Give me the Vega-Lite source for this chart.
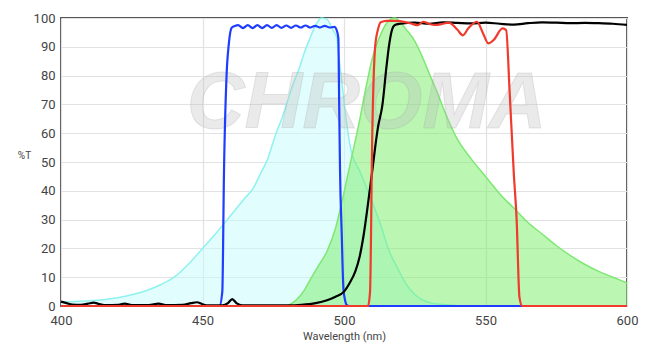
{
  "$schema": "https://vega.github.io/schema/vega-lite/v6.json",
  "autosize": {"type": "none"},
  "width": 566,
  "height": 288,
  "padding": {"left": 61, "top": 18, "right": 25, "bottom": 48},
  "background": "white",
  "config": {
    "view": {"stroke": "#555555", "strokeWidth": 2},
    "axis": {"labelFont": "Roboto", "titleFont": "Roboto", "gridColor": "#e2e2e2", "gridWidth": 1.2, "ticks": false, "domain": false, "labelColor": "#444444", "titleColor": "#444444", "labelFontSize": 13, "titleFontWeight": "normal", "labelFlush": false}
  },
  "datasets": {
    "excitation": [
      {"wl": 400, "t": 1.5}, {"wl": 405, "t": 1.6}, {"wl": 410, "t": 1.8}, {"wl": 415, "t": 2.2}, {"wl": 420, "t": 2.9}, {"wl": 425, "t": 3.9}, {"wl": 430, "t": 5.3}, {"wl": 435, "t": 7.3}, {"wl": 440, "t": 10}, {"wl": 445, "t": 14.5}, {"wl": 450, "t": 20}, {"wl": 455, "t": 25.5}, {"wl": 460, "t": 31.5}, {"wl": 465, "t": 37.5}, {"wl": 468, "t": 41}, {"wl": 470, "t": 45}, {"wl": 473, "t": 51}, {"wl": 476, "t": 60}, {"wl": 478, "t": 65}, {"wl": 480, "t": 71}, {"wl": 482, "t": 77}, {"wl": 484, "t": 82}, {"wl": 486, "t": 88}, {"wl": 488, "t": 93}, {"wl": 490, "t": 97.5}, {"wl": 492, "t": 100}, {"wl": 494, "t": 99.5}, {"wl": 496, "t": 96}, {"wl": 497.5, "t": 93}, {"wl": 498, "t": 88}, {"wl": 499, "t": 80}, {"wl": 500, "t": 71}, {"wl": 501, "t": 63}, {"wl": 502.5, "t": 54}, {"wl": 505.5, "t": 47}, {"wl": 508, "t": 41}, {"wl": 510, "t": 36}, {"wl": 513, "t": 28}, {"wl": 516, "t": 19}, {"wl": 519, "t": 13}, {"wl": 522, "t": 7.5}, {"wl": 525, "t": 4}, {"wl": 528, "t": 2}, {"wl": 531, "t": 1}, {"wl": 535, "t": 0.5}, {"wl": 540, "t": 0.2}
    ],
    "emission": [
      {"wl": 480, "t": 0}, {"wl": 483, "t": 2}, {"wl": 486, "t": 5.5}, {"wl": 488, "t": 9}, {"wl": 491, "t": 14}, {"wl": 494, "t": 19}, {"wl": 497, "t": 27}, {"wl": 499, "t": 35}, {"wl": 501, "t": 44}, {"wl": 503, "t": 53}, {"wl": 505, "t": 62}, {"wl": 508, "t": 77}, {"wl": 510, "t": 86}, {"wl": 512, "t": 92}, {"wl": 514, "t": 96.5}, {"wl": 516, "t": 99.3}, {"wl": 518, "t": 100}, {"wl": 520, "t": 98.5}, {"wl": 522, "t": 96}, {"wl": 525, "t": 92}, {"wl": 527, "t": 88}, {"wl": 530, "t": 81}, {"wl": 533, "t": 74}, {"wl": 536, "t": 66.5}, {"wl": 540, "t": 58}, {"wl": 545, "t": 51}, {"wl": 550, "t": 45}, {"wl": 555, "t": 39}, {"wl": 560, "t": 34}, {"wl": 565, "t": 29}, {"wl": 570, "t": 25}, {"wl": 575, "t": 21}, {"wl": 580, "t": 17.5}, {"wl": 585, "t": 14.5}, {"wl": 590, "t": 12}, {"wl": 595, "t": 10}, {"wl": 600, "t": 8}
    ],
    "exfilter": [
      {"wl": 400, "t": 0}, {"wl": 456, "t": 0}, {"wl": 457, "t": 5}, {"wl": 457.6, "t": 47}, {"wl": 458.5, "t": 80}, {"wl": 459.3, "t": 91}, {"wl": 460.3, "t": 96.6}, {"wl": 461.4, "t": 97.2}, {"wl": 462.6, "t": 97.5}, {"wl": 464.3, "t": 96.5}, {"wl": 466.0, "t": 97.5}, {"wl": 467.7, "t": 96.5}, {"wl": 469.4, "t": 97.5}, {"wl": 471.1, "t": 96.5}, {"wl": 472.8, "t": 97.5}, {"wl": 474.5, "t": 96.6}, {"wl": 476.2, "t": 97.5}, {"wl": 477.9, "t": 96.6}, {"wl": 479.6, "t": 97.4}, {"wl": 481.3, "t": 96.6}, {"wl": 483.0, "t": 97.4}, {"wl": 484.7, "t": 96.7}, {"wl": 486.4, "t": 97.4}, {"wl": 488.1, "t": 96.7}, {"wl": 489.8, "t": 97.3}, {"wl": 491.5, "t": 96.7}, {"wl": 493.2, "t": 97.3}, {"wl": 494.9, "t": 96.7}, {"wl": 496.6, "t": 96.9}, {"wl": 497.5, "t": 95.5}, {"wl": 498, "t": 93}, {"wl": 498.3, "t": 70}, {"wl": 498.6, "t": 47}, {"wl": 499.2, "t": 25}, {"wl": 499.8, "t": 6}, {"wl": 500.5, "t": 1.5}, {"wl": 501, "t": 0.3}, {"wl": 502, "t": 0}, {"wl": 600, "t": 0}
    ],
    "dichroic": [
      {"wl": 400, "t": 1.5}, {"wl": 402, "t": 1}, {"wl": 404, "t": 0.5}, {"wl": 407, "t": 0.4}, {"wl": 409.5, "t": 0.8}, {"wl": 411.5, "t": 1.2}, {"wl": 413.5, "t": 0.7}, {"wl": 416, "t": 0.3}, {"wl": 420, "t": 0.4}, {"wl": 422.5, "t": 0.8}, {"wl": 425, "t": 0.3}, {"wl": 431, "t": 0.3}, {"wl": 434.5, "t": 0.8}, {"wl": 437, "t": 0.3}, {"wl": 443, "t": 0.4}, {"wl": 446, "t": 1}, {"wl": 448, "t": 1.3}, {"wl": 450, "t": 0.6}, {"wl": 452, "t": 0.2}, {"wl": 457, "t": 0.2}, {"wl": 459, "t": 1}, {"wl": 460.5, "t": 2.4}, {"wl": 462, "t": 1}, {"wl": 464, "t": 0.2}, {"wl": 480, "t": 0.2}, {"wl": 485, "t": 0.4}, {"wl": 490, "t": 1}, {"wl": 494, "t": 2}, {"wl": 497, "t": 3.2}, {"wl": 500, "t": 5}, {"wl": 502, "t": 8}, {"wl": 504, "t": 12}, {"wl": 505.5, "t": 17}, {"wl": 507, "t": 25}, {"wl": 508.5, "t": 35.6}, {"wl": 510, "t": 47}, {"wl": 511, "t": 55}, {"wl": 512, "t": 62}, {"wl": 513.6, "t": 70}, {"wl": 515, "t": 83}, {"wl": 516, "t": 91}, {"wl": 517, "t": 96}, {"wl": 518, "t": 97.6}, {"wl": 520, "t": 98}, {"wl": 525, "t": 98.4}, {"wl": 530, "t": 98}, {"wl": 535, "t": 98.5}, {"wl": 540, "t": 98.3}, {"wl": 545, "t": 98.1}, {"wl": 550, "t": 98.4}, {"wl": 555, "t": 98}, {"wl": 560, "t": 97.7}, {"wl": 565, "t": 98.2}, {"wl": 570, "t": 98.5}, {"wl": 575, "t": 98.4}, {"wl": 580, "t": 98.2}, {"wl": 585, "t": 98.3}, {"wl": 590, "t": 98.2}, {"wl": 595, "t": 98}, {"wl": 600, "t": 97.6}
    ],
    "emfilter": [
      {"wl": 400, "t": 0}, {"wl": 508.5, "t": 0}, {"wl": 509.2, "t": 5}, {"wl": 510, "t": 60}, {"wl": 511, "t": 90}, {"wl": 512, "t": 96}, {"wl": 513, "t": 98.5}, {"wl": 515, "t": 99}, {"wl": 518, "t": 99}, {"wl": 522, "t": 98.5}, {"wl": 524, "t": 98}, {"wl": 526, "t": 97.5}, {"wl": 528, "t": 98.7}, {"wl": 530, "t": 98}, {"wl": 532, "t": 97.6}, {"wl": 535, "t": 98}, {"wl": 537, "t": 98.4}, {"wl": 540, "t": 96}, {"wl": 542, "t": 94}, {"wl": 544, "t": 96.5}, {"wl": 547, "t": 98.7}, {"wl": 549, "t": 95}, {"wl": 551, "t": 91.2}, {"wl": 553, "t": 92.5}, {"wl": 556, "t": 96.4}, {"wl": 557.3, "t": 95.8}, {"wl": 558.5, "t": 75}, {"wl": 560, "t": 46}, {"wl": 561, "t": 30}, {"wl": 562, "t": 3}, {"wl": 563, "t": 0}, {"wl": 600, "t": 0}
    ],
    "watermark": [{"wl": 508, "t": 70, "label": "CHROMA"}]
  },
  "encoding": {
    "x": {"field": "wl", "type": "quantitative", "scale": {"domain": [400, 600], "nice": false, "zero": false},
      "axis": {"values": [400, 450, 500, 550, 600], "grid": true, "labelPadding": 8, "title": "Wavelength (nm)", "titleFontSize": 11, "titlePadding": 3}},
    "y": {"field": "t", "type": "quantitative", "scale": {"domain": [0, 100], "nice": false},
      "axis": {"values": [0, 10, 20, 30, 40, 50, 60, 70, 80, 90, 100], "grid": true, "labelPadding": 6, "title": "%T", "titleAngle": 0, "titleX": -37, "titleY": 137, "titleAlign": "center", "titleBaseline": "middle", "titleFontSize": 10}}
  },
  "layer": [
    {"data": {"name": "excitation"}, "mark": {"type": "area", "interpolate": "monotone", "fill": "#c6fbfb", "fillOpacity": 0.5, "line": {"color": "#8ef2ee", "strokeWidth": 1.5}}},
    {"data": {"name": "emission"}, "mark": {"type": "area", "interpolate": "monotone", "fill": "#78ee68", "fillOpacity": 0.5, "line": {"color": "#7ee873", "strokeWidth": 1.5}}},
    {"data": {"name": "watermark"}, "mark": {"type": "text", "font": "Liberation Sans", "fontSize": 80, "fontWeight": "bold", "fontStyle": "italic", "fill": "#b8b8b8", "fillOpacity": 0.3, "stroke": "#9a9a9a", "strokeOpacity": 0.22, "strokeWidth": 1, "align": "center", "baseline": "middle"}, "encoding": {"text": {"field": "label"}}},
    {"data": {"name": "exfilter"}, "mark": {"type": "line", "interpolate": "monotone", "color": "#1f3dff", "strokeWidth": 2.2}},
    {"data": {"name": "dichroic"}, "mark": {"type": "line", "interpolate": "monotone", "color": "#000000", "strokeWidth": 2.2}},
    {"data": {"name": "emfilter"}, "mark": {"type": "line", "interpolate": "monotone", "color": "#f03a2c", "strokeWidth": 2.2}}
  ]
}
